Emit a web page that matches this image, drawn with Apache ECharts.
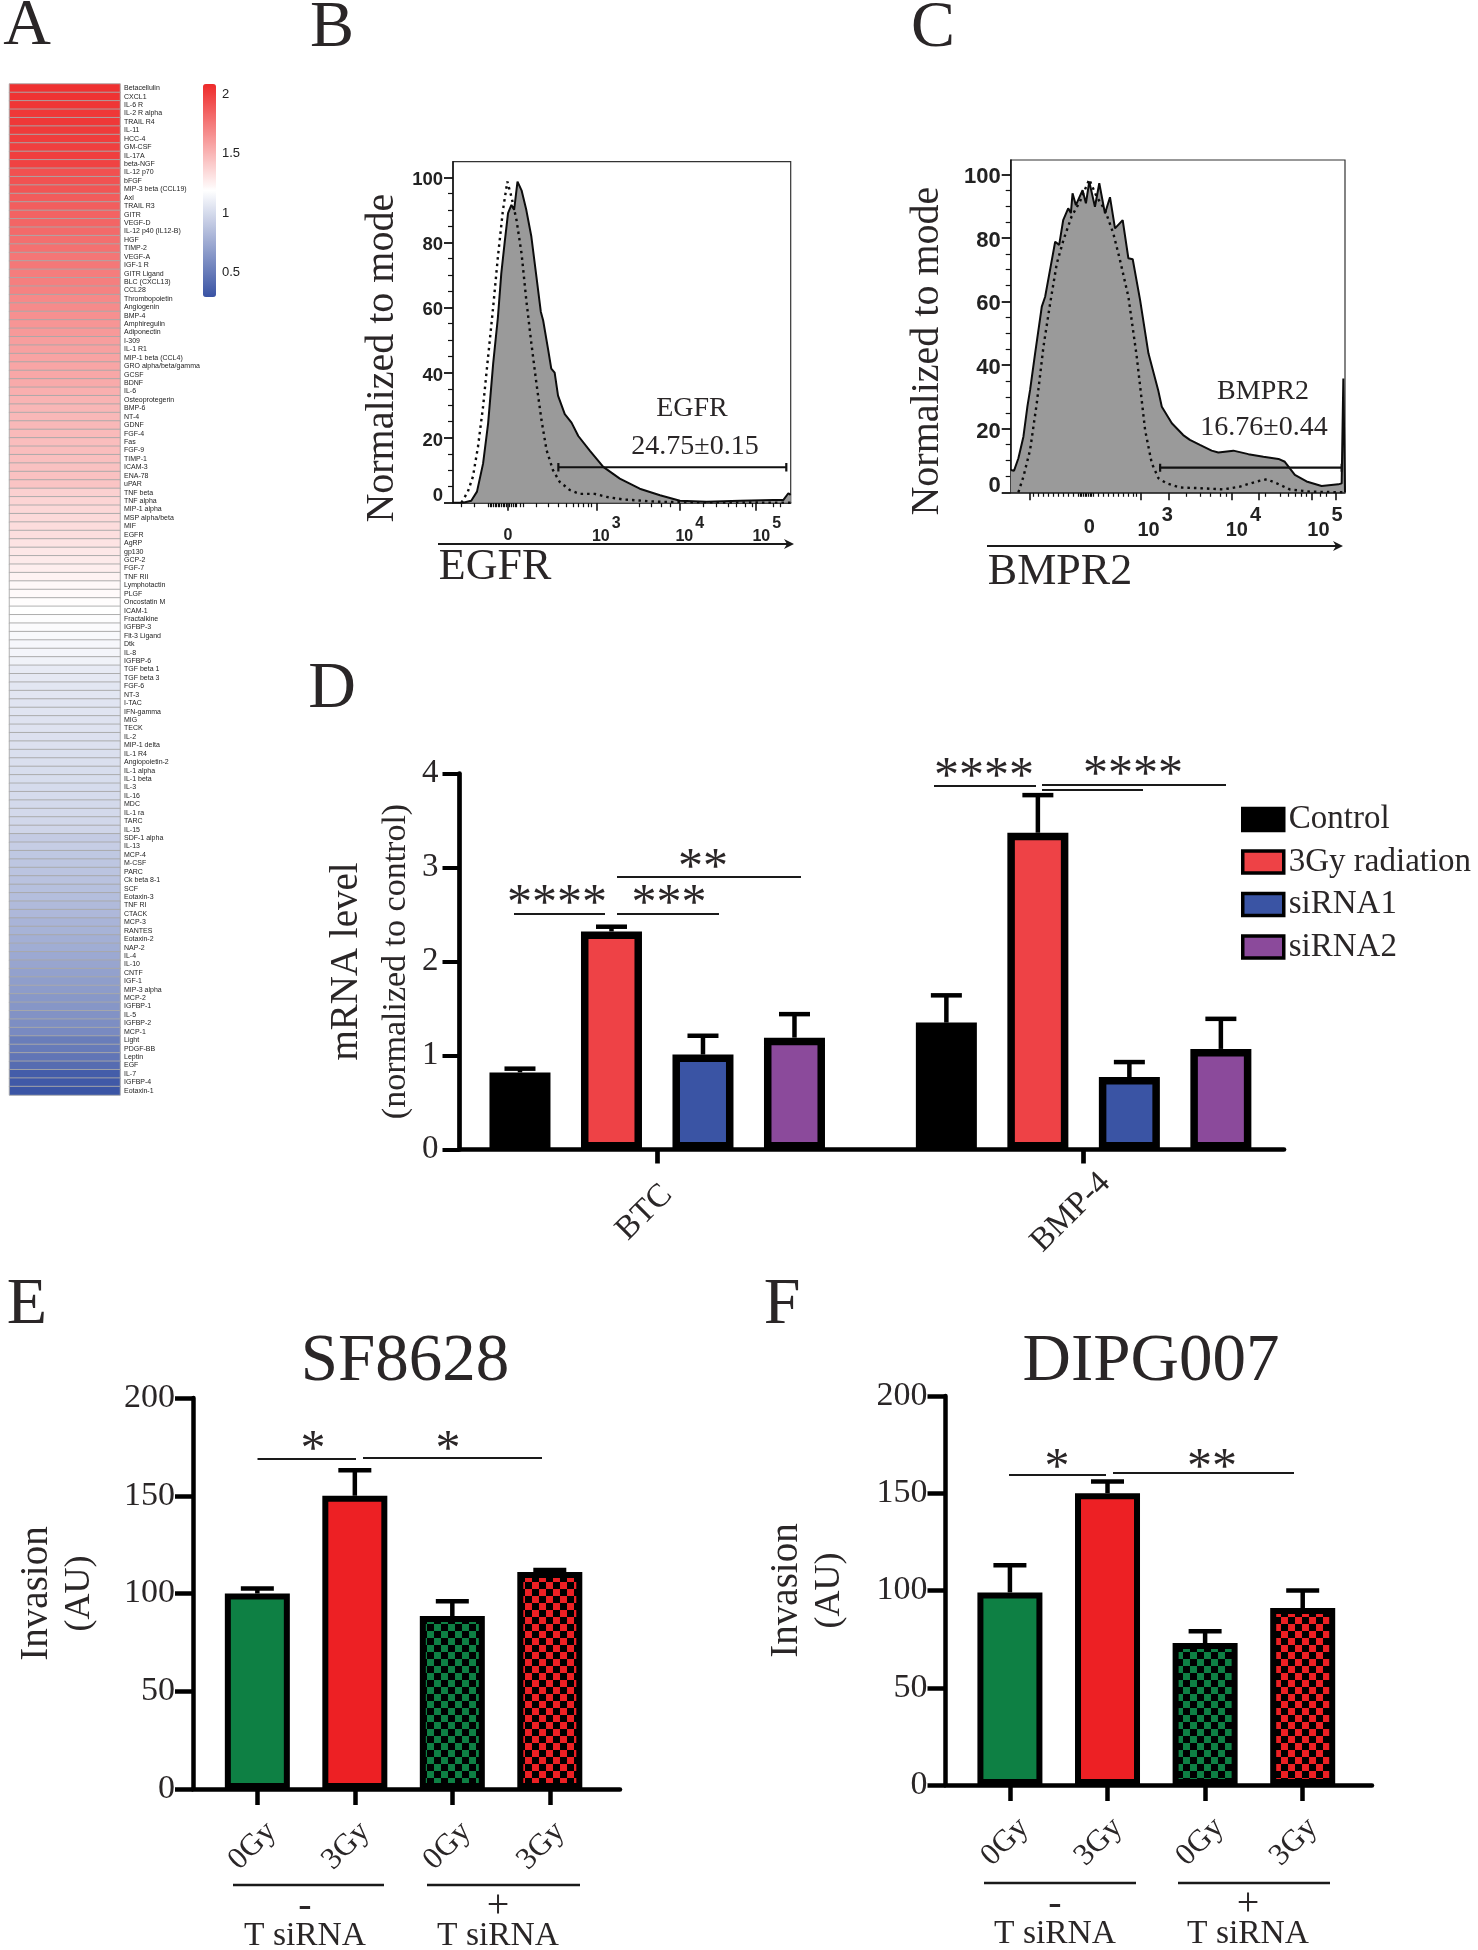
<!DOCTYPE html>
<html><head><meta charset="utf-8"><title>Figure</title>
<style>html,body{margin:0;padding:0;background:#fff}#c{width:1478px;height:1950px}</style>
<script src="https://cdn.jsdelivr.net/npm/echarts@6/dist/echarts.min.js"></script></head>
<body><div id="c"></div>
<script>
// ---------- Panel A data
const cytokines=["Betacellulin","CXCL1","IL-6 R","IL-2 R alpha","TRAIL R4","IL-11","HCC-4","GM-CSF","IL-17A","beta-NGF","IL-12 p70","bFGF","MIP-3 beta (CCL19)","Axl","TRAIL R3","GITR","VEGF-D","IL-12 p40 (IL12-B)","HGF","TIMP-2","VEGF-A","IGF-1 R","GITR Ligand","BLC (CXCL13)","CCL28","Thrombopoietin","Angiogenin","BMP-4","Amphiregulin","Adiponectin","I-309","IL-1 R1","MIP-1 beta (CCL4)","GRO alpha/beta/gamma","GCSF","BDNF","IL-6","Osteoprotegerin","BMP-6","NT-4","GDNF","FGF-4","Fas","FGF-9","TIMP-1","ICAM-3","ENA-78","uPAR","TNF beta","TNF alpha","MIP-1 alpha","MSP alpha/beta","MIF","EGFR","AgRP","gp130","GCP-2","FGF-7","TNF RII","Lymphotactin","PLGF","Oncostatin M","ICAM-1","Fractalkine","IGFBP-3","Flt-3 Ligand","Dtk","IL-8","IGFBP-6","TGF beta 1","TGF beta 3","FGF-6","NT-3","I-TAC","IFN-gamma","MIG","TECK","IL-2","MIP-1 delta","IL-1 R4","Angiopoietin-2","IL-1 alpha","IL-1 beta","IL-3","IL-16","MDC","IL-1 ra","TARC","IL-15","SDF-1 alpha","IL-13","MCP-4","M-CSF","PARC","Ck beta 8-1","SCF","Eotaxin-3","TNF RI","CTACK","MCP-3","RANTES","Eotaxin-2","NAP-2","IL-4","IL-10","CNTF","IGF-1","MIP-3 alpha","MCP-2","IGFBP-1","IL-5","IGFBP-2","MCP-1","Light","PDGF-BB","Leptin","EGF","IL-7","IGFBP-4","Eotaxin-1"];
const cytokineFold=[2.06,2.05,2.04,2.03,2.03,2.02,2.01,2.00,2.00,1.99,1.93,1.92,1.91,1.88,1.87,1.85,1.84,1.82,1.80,1.79,1.77,1.76,1.74,1.73,1.72,1.69,1.68,1.66,1.64,1.62,1.60,1.59,1.58,1.57,1.56,1.55,1.53,1.51,1.50,1.49,1.49,1.48,1.47,1.47,1.46,1.45,1.45,1.44,1.39,1.37,1.36,1.35,1.34,1.33,1.31,1.29,1.28,1.26,1.24,1.22,1.21,1.20,1.19,1.18,1.17,1.16,1.15,1.14,1.12,1.08,1.07,1.06,1.06,1.05,1.05,1.04,1.04,1.03,1.03,1.02,1.02,1.01,1.01,1.00,1.00,0.99,0.99,0.98,0.97,0.92,0.93,0.90,0.89,0.88,0.87,0.86,0.85,0.83,0.82,0.80,0.79,0.77,0.76,0.74,0.72,0.70,0.68,0.67,0.65,0.64,0.62,0.60,0.58,0.51,0.50,0.47,0.42,0.34,0.32,0.30];
const colorbarTicks=[0.5,1,1.5,2];
// ---------- Panel B data (display channel 0-1000, % of mode)
const egfrSolid=[[0,0],[30,0],[54,0.6],[71,3.4],[89,12],[104,24.4],[119,42.8],[133,57],[143,70.5],[153,80],[163,89],[173,91.5],[181,90],[191,98.7],[203,96],[217,90],[232,81.8],[247,69.5],[260,58.7],[267,56],[282,46.9],[291,41.2],[301,40],[311,32.9],[331,27.2],[351,24.6],[371,20.5],[405,16],[445,11],[494,7.4],[553,4.3],[613,2.3],[672,0.6],[751,0.3],[850,0.6],[948,0.8],[978,0.8],[993,2.9],[1000,2.4]];
const egfrDotted=[[25,0],[44,3.4],[59,8],[74,17.2],[89,29.5],[104,44.9],[119,60.2],[133,75.6],[148,90],[161,98.7],[173,94],[188,86.9],[203,76.6],[217,62.3],[232,49],[247,36.7],[262,25.4],[277,16.2],[296,10],[316,6.4],[346,3.9],[375,2.7],[420,2.7],[454,1.8],[504,1],[603,0.3],[751,0.1],[1000,0]];
const egfrGate=[[312,9.6],[312,12.2],[312,10.9],[987,10.9],[987,12.2],[987,9.6]];
const egfrMajorTicks=[163,425,672,897];
const egfrMinorTicks=[25,62,104,109,114,119,124,129,133,138,143,148,153,158,168,173,178,183,188,198,208,247,282,311,336,356,371,385,400,410,553,588,617,642,741,781,815,840,865,885,949,969];
const egfrLabelAt=[163,454,701,929];
const logLabels=["0","10|3","10|4","10|5"];
// ---------- Panel C data
const bmpr2Solid=[[0,7],[10,6.8],[23,10.7],[38,17.5],[50,27],[58,32.2],[73,43.7],[93,58.4],[103,61.5],[123,73],[133,78.8],[145,77.8],[157,85.6],[172,89.3],[180,87.8],[185,94],[195,90.3],[215,95],[225,90.9],[235,97.7],[252,89.8],[265,97.2],[282,87.7],[297,92.8],[312,83],[335,85.6],[352,73.6],[365,73.3],[387,60.5],[412,43.7],[441,32.2],[452,26.9],[482,21.7],[516,18],[536,16.5],[566,14.9],[601,13.1],[621,12.5],[666,13.1],[711,12],[756,11.2],[801,10.5],[820,9.6],[850,5.5],[885,3.4],[930,2],[980,2.5],[990,2.8],[995,35.8],[1000,0]];
const bmpr2Dotted=[[23,0],[38,4.9],[58,13.3],[78,28],[98,45.8],[118,59.4],[138,72],[158,79.4],[182,86.7],[207,91.4],[235,98.4],[257,93],[282,88.8],[307,81.4],[327,73],[352,61.5],[377,42.7],[402,19.6],[422,9.1],[442,4.4],[467,2.8],[506,1.5],[566,1.3],[636,0.9],[686,1.8],[736,3.4],[766,4.1],[796,2.8],[835,0.9],[895,0.2],[1000,0]];
const bmpr2Gate=[[447,6.5],[447,9],[447,7.76],[990,7.76],[990,9],[990,6.5]];
const bmpr2MajorTicks=[58,389,474,661,741,900,973];
const bmpr2MinorTicks=[68,83,98,113,128,143,158,173,187,202,207,212,217,222,227,232,237,242,247,262,277,292,307,322,337,352,367,377,526,566,596,626,646,761,806,830,850,870,885,925,945];
const bmpr2LabelAt=[235,432,696,940];
const flowY=[0,20,40,60,80,100];
const flowYLabelAt=[2,19.1,39.1,59.1,79.1,99.1];
const flowYMinor=[5,10,15,25,30,35,45,50,55,65,70,75,85,90,95];
// ---------- Panel D data
const genes=["BTC","BMP-4"];
const mrnaControl=[0.82,1.35],mrnaRadiation=[2.32,3.37],mrnaSi1=[1.01,0.77],mrnaSi2=[1.19,1.07];
const errControl=[0.86,1.64],errRadiation=[2.37,3.77],errSi1=[1.21,0.93],errSi2=[1.44,1.39];
const slotsD=[[0,4.66],[1,5.66],[2,6.66],[3,7.66]];
const geneTicks=[1.5,6.16];
const conditions=["Control","3Gy radiation","siRNA1","siRNA2"];
const colorsD=["#000000","#ee4246","#3a54a4","#8b4a9b"];
// ---------- Panels E, F data
const doseLabels=["0Gy","3Gy","0Gy","3Gy"];
const sf8628=[100,150,88.5,111],sf8628Err=[102.5,163,96,112];
const dipg007=[99,150,73,91],dipg007Err=[113,156,79,100];

// ---------- Helpers
const INK="#2a2627",SERIF='"Liberation Serif"',SANS='"Liberation Sans"';
const gr=[];
const T=(x,y,text,size,o={})=>gr.push({type:'text',x,y,rotation:o.rot||0,silent:true,z:20,style:{text,fontFamily:o.fam||SERIF,fontSize:size,fontWeight:o.w||'normal',fill:o.c||INK,align:o.a||'center',verticalAlign:'middle'}});
const L=(x1,y1,x2,y2,w=2.2)=>gr.push({type:'line',silent:true,z:20,shape:{x1,y1,x2,y2},style:{stroke:'#1a1a1a',lineWidth:w}});
const star=(x,y,s)=>T(x,y+7,s,50);
const checker=(c)=>{const k=document.createElement('canvas');k.width=k.height=14;const g=k.getContext('2d');g.fillStyle='#000';g.fillRect(0,0,14,14);g.fillStyle=c;g.fillRect(0,0,7,7);g.fillRect(7,7,7,7);return {image:k,repeat:'repeat'};};
const errBar=(xAxisIndex,yAxisIndex,rows,capW,lw)=>({type:'custom',xAxisIndex,yAxisIndex,z:1,silent:true,clip:false,data:rows,encode:{x:0,y:1},
  renderItem:(p,api)=>{const top=api.coord([api.value(0),api.value(1)]),bot=api.coord([api.value(0),api.value(2)]);
    const s={stroke:'#000',lineWidth:lw};
    return {type:'group',children:[{type:'line',shape:{x1:top[0],y1:top[1],x2:bot[0],y2:bot[1]},style:s},{type:'line',shape:{x1:top[0]-capW/2,y1:top[1],x2:top[0]+capW/2,y2:top[1]},style:s}]};}});

const grid=[],xAxis=[],yAxis=[],series=[];
// A
grid.push({left:9.5,top:84,width:110.5,height:1011});
xAxis.push({gridIndex:0,type:'category',data:[''],show:false});
yAxis.push({gridIndex:0,type:'category',data:cytokines,inverse:true,position:'right',axisLine:{show:false},axisTick:{show:false},splitLine:{show:false},
  axisLabel:{interval:0,fontSize:7,fontFamily:SANS,color:'#222',margin:4}});
series.push({type:'heatmap',xAxisIndex:0,yAxisIndex:0,silent:true,data:cytokineFold.map((v,i)=>[0,i,v]),itemStyle:{borderColor:'#a8a8a8',borderWidth:0.9},progressive:0});
// colour-bar tick labels
grid.push({left:216,top:84,width:1,height:213});
xAxis.push({gridIndex:1,type:'value',show:false,min:0,max:1});
yAxis.push({gridIndex:1,type:'value',min:0.29,max:2.09,position:'right',axisLine:{show:false},axisTick:{show:false},splitLine:{show:false},
  axisLabel:{customValues:colorbarTicks,formatter:v=>String(v),fontSize:13,fontFamily:SANS,color:'#222',margin:5}});
// B, C
function flow(left,top,width,height,ymax,major,minor,labelAt,solid,dotted,gate,name,nameGap,namePad,fy,fx){
  const g=grid.length;
  grid.push({left,top,width,height,show:true,borderColor:'#333',borderWidth:1.2,backgroundColor:'transparent'});
  const rich={b:{fontFamily:SANS,fontWeight:'bold',fontSize:fx,color:'#222',padding:[5,0,0,0]},s:{fontFamily:SANS,fontWeight:'bold',fontSize:fx,color:'#222',padding:[0,0,fx*1.25,2]},o:{fontFamily:SANS,fontWeight:'bold',fontSize:fx,color:'#222',padding:[12,0,0,0]}};
  xAxis.push({gridIndex:g,type:'value',min:0,max:1000,position:'bottom',splitLine:{show:false},
    axisLine:{lineStyle:{color:'#111',width:1.5}},axisTick:{customValues:major,length:8,lineStyle:{color:'#111',width:1.6}},
    axisLabel:{customValues:labelAt,margin:13,rich,formatter:v=>{const s=logLabels[labelAt.indexOf(v)];const p=s.split('|');return p.length>1?`{b|${p[0]}}{s|${p[1]}}`:`{o|${s}}`;}}});
  xAxis.push({gridIndex:g,type:'value',min:0,max:1000,position:'bottom',splitLine:{show:false},axisLine:{show:false},
    axisTick:{customValues:minor,length:4.5,lineStyle:{color:'#111',width:1.2}},axisLabel:{show:false}});
  yAxis.push({gridIndex:g,type:'value',min:0,max:ymax,position:'left',splitLine:{show:false},
    axisLine:{lineStyle:{color:'#111',width:1.5}},axisTick:{customValues:flowY,length:9,lineStyle:{color:'#111',width:1.8}},
    axisLabel:{customValues:flowYLabelAt,formatter:v=>String(flowY[flowYLabelAt.indexOf(v)]),fontFamily:SANS,fontWeight:'bold',fontSize:fy,color:'#222',margin:10},
    name,nameLocation:'middle',nameGap,nameMoveOverlap:false,nameTextStyle:{fontFamily:SERIF,fontSize:40,color:INK,padding:namePad}});
  yAxis.push({gridIndex:g,type:'value',min:0,max:ymax,position:'left',splitLine:{show:false},axisLine:{show:false},
    axisTick:{customValues:flowYMinor,length:5,lineStyle:{color:'#111',width:1.2}},axisLabel:{show:false}});
  const xi=xAxis.length-2,yi=yAxis.length-2;
  series.push({type:'line',xAxisIndex:xi,yAxisIndex:yi,data:solid,showSymbol:false,silent:true,z:2,lineStyle:{color:'#0c0c0c',width:2},areaStyle:{color:'#9a9a9a',opacity:1}});
  series.push({type:'line',xAxisIndex:xi,yAxisIndex:yi,data:dotted,showSymbol:false,silent:true,z:3,lineStyle:{color:'#0c0c0c',width:2.4,type:[2.5,4]}});
  series.push({type:'line',xAxisIndex:xi,yAxisIndex:yi,data:gate,showSymbol:false,silent:true,z:4,lineStyle:{color:'#111',width:2.2}});
}
flow(453,161.7,337.7,341,104.8,egfrMajorTicks,egfrMinorTicks,egfrLabelAt,egfrSolid,egfrDotted,egfrGate,'Normalized to mode',51,[0,52,0,0],18.5,16);
flow(1010.7,160,334.3,332.3,104.5,bmpr2MajorTicks,bmpr2MinorTicks,bmpr2LabelAt,bmpr2Solid,bmpr2Dotted,bmpr2Gate,'Normalized to mode',63,[0,50,0,0],22,20);
// D
{const g=grid.length,xi=xAxis.length,yi=yAxis.length;
 grid.push({left:459.5,top:773.5,width:824.5,height:376});
 xAxis.push({gridIndex:g,type:'value',min:-0.661,max:8.35,splitLine:{show:false},axisLine:{lineStyle:{color:'#000',width:4.7}},
   axisTick:{customValues:geneTicks,length:14,lineStyle:{color:'#000',width:4.7}},
   axisLabel:{customValues:geneTicks.map(v=>v-0.14),formatter:v=>genes[geneTicks.findIndex(t=>Math.abs(t-0.14-v)<1e-6)],rotate:45,align:'center',verticalAlign:'middle',margin:63,fontFamily:SERIF,fontSize:33,color:INK}});
 yAxis.push({gridIndex:g,type:'value',min:0,max:4,interval:1,splitLine:{show:false},axisLine:{onZero:false,lineStyle:{color:'#000',width:4.7}},
   axisTick:{length:17,lineStyle:{color:'#000',width:4}},axisLabel:{margin:21,fontFamily:SERIF,fontSize:33,color:INK},
   name:'{a|mRNA level}\n{b|(normalized to control)}',nameLocation:'middle',nameGap:38,nameMoveOverlap:false,nameTextStyle:{rich:{a:{fontFamily:SERIF,fontSize:39,color:INK,lineHeight:50},b:{fontFamily:SERIF,fontSize:34,color:INK,lineHeight:50}}}});
 const vals=[mrnaControl,mrnaRadiation,mrnaSi1,mrnaSi2],errs=[errControl,errRadiation,errSi1,errSi2];
 conditions.forEach((n,i)=>{
   series.push({type:'bar',name:n,xAxisIndex:xi,yAxisIndex:yi,silent:true,z:2,barWidth:61,barGap:'-100%',data:vals[i].map((v,j)=>[slotsD[i][j],v]),itemStyle:{color:colorsD[i],borderColor:'#000',borderWidth:7.5}});
   series.push(errBar(xi,yi,vals[i].map((v,j)=>[slotsD[i][j],errs[i][j],v]),31,4.5));
 });
}
// E, F
function invasion(left,top,width,height,min,max,vals,errs,nameGap){
  const g=grid.length,xi=xAxis.length,yi=yAxis.length,pos=[1,2,3,4],lab=[0.95,1.91,2.95,3.91];
  const fills=['#0e8044','#ed2024',checker('#0e8044'),checker('#ed2024')];
  grid.push({left,top,width,height});
  xAxis.push({gridIndex:g,type:'value',min,max,splitLine:{show:false},axisLine:{lineStyle:{color:'#000',width:4.5}},
    axisTick:{customValues:pos,length:16,lineStyle:{color:'#000',width:4.5}},
    axisLabel:{customValues:lab,formatter:v=>doseLabels[lab.indexOf(v)],rotate:45,align:'center',verticalAlign:'middle',margin:57,fontFamily:SERIF,fontSize:31,color:INK}});
  yAxis.push({gridIndex:g,type:'value',min:0,max:200,interval:50,splitLine:{show:false},axisLine:{onZero:false,lineStyle:{color:'#000',width:4.5}},
    axisTick:{length:18,lineStyle:{color:'#000',width:4.5}},axisLabel:{margin:18,fontFamily:SERIF,fontSize:34,color:INK},
    name:'{a|Invasion}\n{b|(AU)}',nameLocation:'middle',nameGap,nameMoveOverlap:false,nameTextStyle:{rich:{a:{fontFamily:SERIF,fontSize:39,color:INK,lineHeight:43},b:{fontFamily:SERIF,fontSize:36,color:INK,lineHeight:43}}}});
  series.push({type:'bar',xAxisIndex:xi,yAxisIndex:yi,silent:true,z:2,barWidth:65,data:vals.map((v,i)=>({value:[pos[i],v],itemStyle:{color:fills[i],borderColor:'#000',borderWidth:6}}))});
  series.push(errBar(xi,yi,vals.map((v,i)=>[pos[i],errs[i],v]),33,4.5));
}
invasion(193,1398,427,391,0.34,4.72,sf8628,sf8628Err,92);
invasion(945.5,1396,426.5,389,0.34,4.71,dipg007,dipg007Err,94);

// ---------- Annotations
[['A',27,27],['B',332,29],['C',933,29],['D',332,690],['E',27,1306],['F',782,1306]].forEach(a=>T(a[1],a[2],a[0],66));
// flow labels
T(692,409,'EGFR',28);T(695,447,'24.75±0.15',28);
T(1263,392,'BMPR2',28);T(1264,428,'16.76±0.44',28);
T(495,567,'EGFR',44);T(1060,572,'BMPR2',44);
const arrow=(x1,x2,y)=>{L(x1,y,x2-6,y,2);gr.push({type:'polygon',silent:true,z:20,shape:{points:[[x2,y],[x2-10,y-5],[x2-7,y],[x2-10,y+5]]},style:{fill:'#1a1a1a'}});};
arrow(438,794,544);arrow(987,1343,546);
// significance D
[[514,605,914],[617,719,914],[617,801,877],[934,1036,786],[1042,1143,790],[1042,1226,785]].forEach(l=>L(l[0],l[2],l[1],l[2]));
star(557,898,'****');star(669,898,'***');star(703,862,'**');star(984,771,'****');star(1133,769,'****');
// significance E, F
L(257.5,1459,356,1459);L(363,1458,542,1458);star(313,1444,'*');star(448,1444,'*');
L(1009,1475,1106,1475);L(1113,1473,1294,1473);star(1057,1462,'*');star(1212,1462,'**');
// group labels E, F
[[233,384,305,1885],[427,580,498,1885],[984,1136,1055,1883],[1178,1330,1248,1883]].forEach((r,i)=>{L(r[0],r[3],r[1],r[3],2.5);
  T(r[2],r[3]+21,i%2?'+':'-',40);T(r[2],r[3]+51,'T siRNA',33.5);});

const option={animation:false,backgroundColor:'#fff',
 title:[{text:'SF8628',left:400,top:1324,textAlign:'center',textStyle:{fontFamily:SERIF,fontSize:67,fontWeight:'normal',color:INK}},
        {text:'DIPG007',left:1146,top:1324,textAlign:'center',textStyle:{fontFamily:SERIF,fontSize:67,fontWeight:'normal',color:INK}}],
 visualMap:{type:'continuous',seriesIndex:0,min:0.29,max:2.09,left:203,top:84,padding:0,itemWidth:13,itemHeight:213,calculable:false,text:null,showLabel:false,
   textStyle:{fontSize:0},inRange:{color:['#3953a4','#ffffff','#ee2a2a']},hoverLink:false},
 legend:{data:conditions,orient:'vertical',left:1241,top:803,padding:0,itemWidth:41,itemHeight:22,itemGap:9.5,itemStyle:{borderColor:'#000',borderWidth:3.5},selectedMode:false,icon:'rect',textStyle:{fontFamily:SERIF,fontSize:33,color:INK,padding:[0,0,0,0]}},
 grid,xAxis,yAxis,series,graphic:gr};
echarts.init(document.getElementById('c'),null,{renderer:'canvas'}).setOption(option);
</script></body></html>
